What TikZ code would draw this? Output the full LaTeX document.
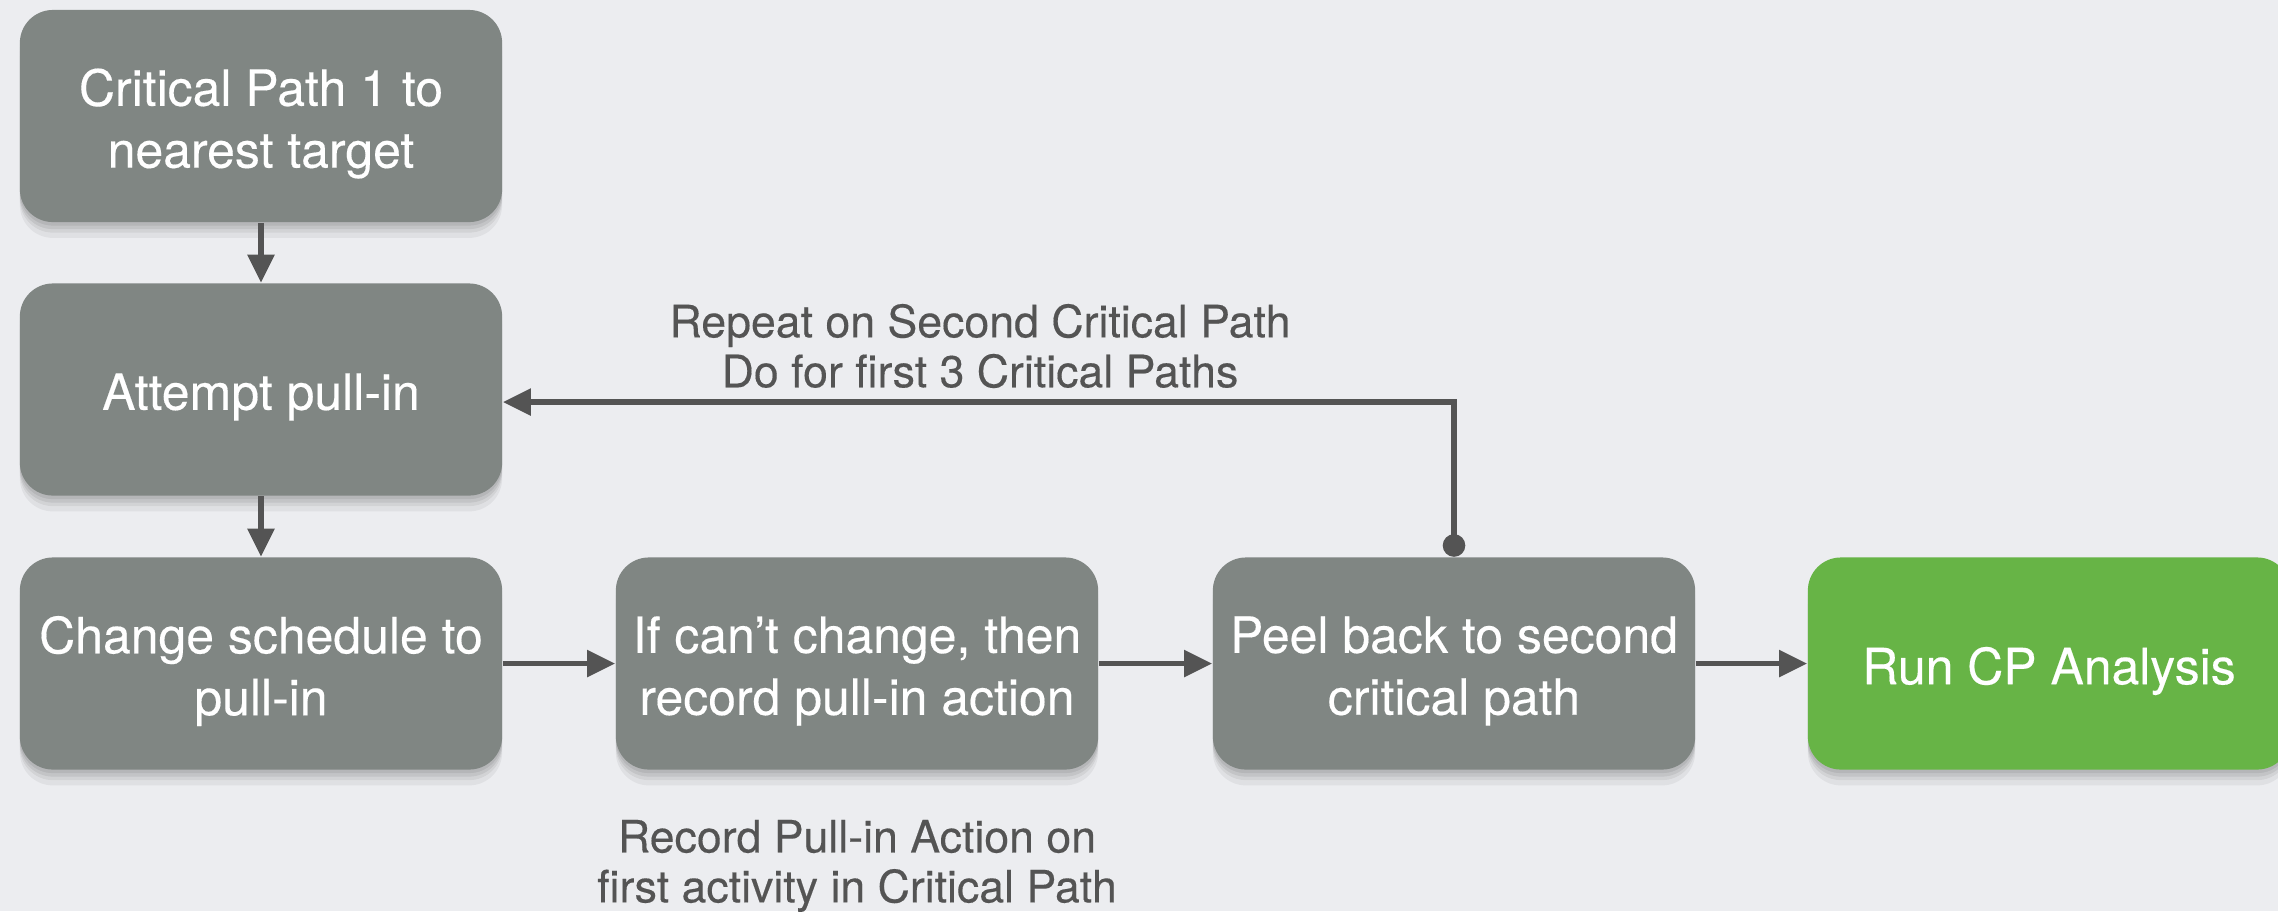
\documentclass[tikz,border=0pt]{standalone}
\usepackage{fontspec}
\setmainfont{TeX Gyre Heros}
\newfontfamily\heromed{TeX Gyre Heros}[FakeBold=0.3]
\usetikzlibrary{arrows.meta}
\definecolor{bgc}{RGB}{236,237,240}
\definecolor{boxgray}{RGB}{128,134,131}
\definecolor{boxgreen}{RGB}{103,180,70}
\definecolor{linec}{RGB}{84,84,84}
\tikzset{
  flowbox/.style={rectangle, rounded corners=0.33cm, fill=boxgray,
    minimum width=4.82cm, minimum height=2.12cm, inner sep=0pt,
    preaction={fill=black, fill opacity=0.07, transform canvas={yshift=-1pt}},
    preaction={fill=black, fill opacity=0.07, transform canvas={yshift=-2pt}},
    preaction={fill=black, fill opacity=0.06, transform canvas={yshift=-3pt}},
    preaction={fill=black, fill opacity=0.05, transform canvas={yshift=-4.5pt}}},
  greenbox/.style={flowbox, fill=boxgreen},
  boxtext/.style={text=white, align=center, inner sep=0pt, yshift=-0.075cm,
    font=\heromed\fontsize{14.2pt}{17.6pt}\selectfont},
  note/.style={text=linec, align=center, inner sep=0pt,
    font=\heromed\fontsize{12.7pt}{14.2pt}\selectfont},
  conn/.style={draw=linec, line width=1.6pt,
    -{Triangle[length=8pt,width=7.4pt]}},
  loopconn/.style={draw=linec, line width=1.6pt,
    {Circle[length=6.4pt]}-{Triangle[length=8pt,width=7.4pt]}}
}
\begin{document}
\begin{tikzpicture}[x=0.01cm,y=-0.01cm]
\clip (0,0) rectangle (2278,911);
\fill[bgc] (0,0) rectangle (2278,911);

\node[flowbox] (b1) at (261,116) {};
\node[flowbox] (b2) at (261,389.5) {};
\node[flowbox] (b3) at (261,663.5) {};
\node[flowbox] (b4) at (857,663.5) {};
\node[flowbox] (b5) at (1454,663.5) {};
\node[greenbox] (b6) at (2049,663.5) {};

\node[boxtext] (b1t) at (b1.center) {Critical Path 1 to\\nearest target};
\node[boxtext] (b2t) at (b2.center) {Attempt pull-in};
\node[boxtext] (b3t) at (b3.center) {Change schedule to\\pull-in};
\node[boxtext] (b4t) at (b4.center) {If can’t change, then\\record pull-in action};
\node[boxtext] (b5t) at (b5.center) {Peel back to second\\critical path};
\node[boxtext] (b6t) at (b6.center) {Run CP Analysis};

\node[note] (t1) at (980,346) {Repeat on Second Critical Path\\Do for first 3 Critical Paths};
\node[note] (t2) at (857,866) {Record Pull-in Action on\\first activity in Critical Path};

\coordinate (fb) at (1456,402);

\draw[conn] (b1.south) -- (b2.north);
\draw[conn] (b2.south) -- (b3.north);
\draw[conn] (b3.east) -- (b4.west);
\draw[conn] (b4.east) -- (b5.west);
\draw[conn] (b5.east) -- (b6.west);
\draw[loopconn] (b5.north) |- (b2.east |- fb);
\end{tikzpicture}
\end{document}
